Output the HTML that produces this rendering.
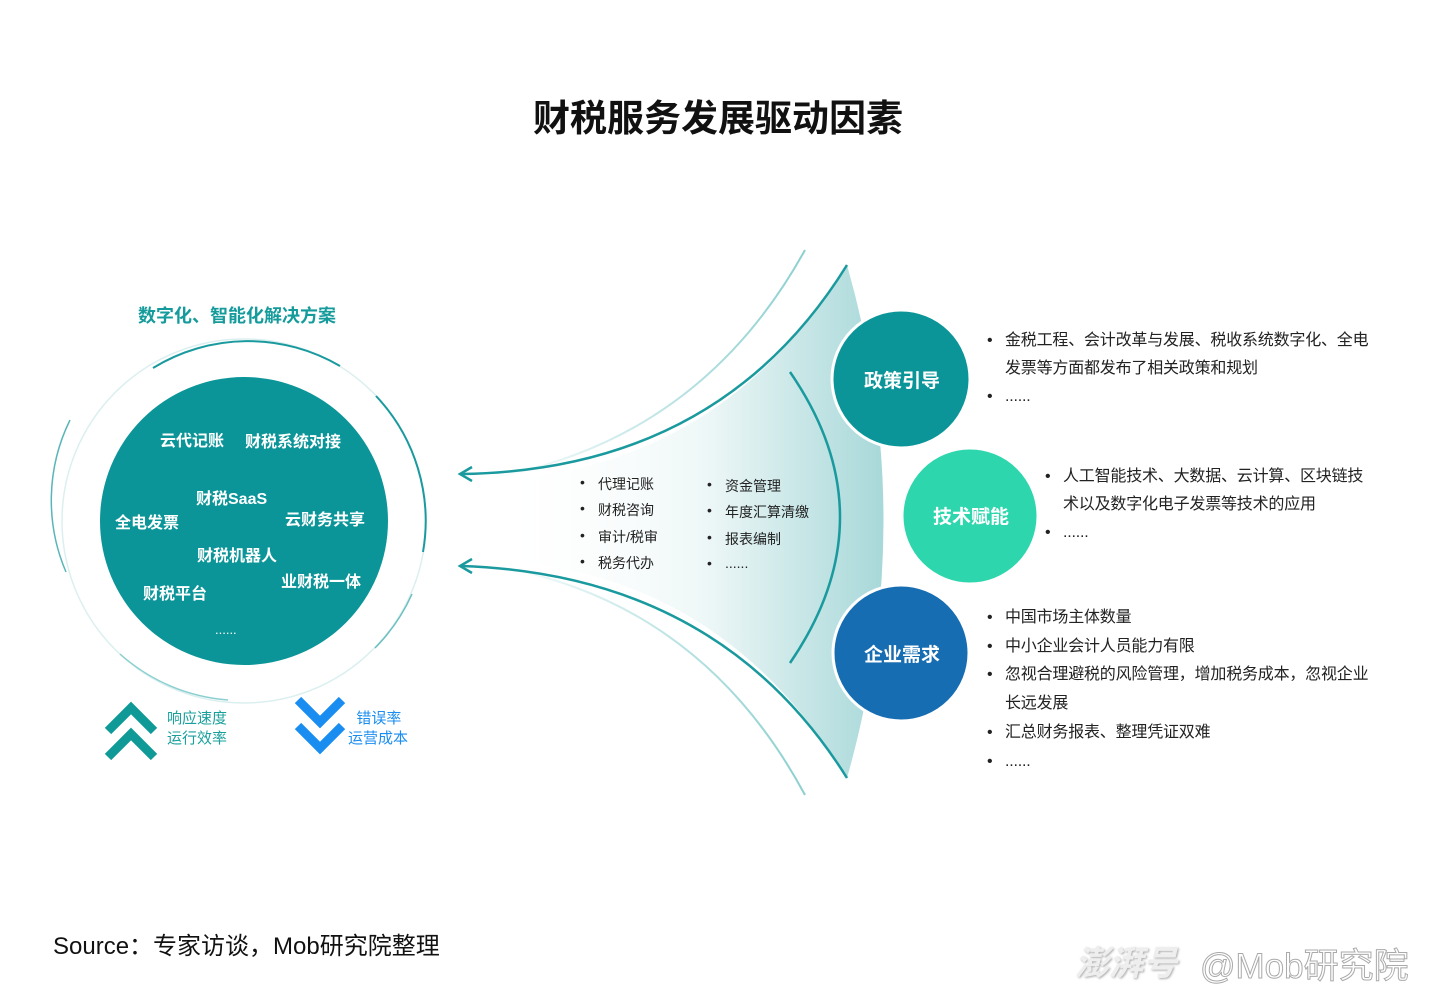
<!DOCTYPE html>
<html><head><meta charset="utf-8"><style>
*{margin:0;padding:0}
body{width:1436px;height:983px;background:#fff;position:relative;overflow:hidden;font-family:"Liberation Sans","Noto Sans CJK SC",sans-serif;color:#222}
.t{position:absolute;white-space:nowrap}
.w{color:#fff;font-weight:bold;font-size:16px}
.li{position:absolute;font-size:14px;white-space:nowrap}
.li:before{content:"•";position:absolute;left:-18px}
.r{position:absolute;font-size:16px;line-height:28px;white-space:nowrap;letter-spacing:-0.2px}
.r div{position:relative}
.r div:before{content:"•";position:absolute;left:-18px}
</style></head><body>
<svg width="1436" height="983" style="position:absolute;left:0;top:0">
<defs>
<linearGradient id="fan" x1="0" y1="0" x2="1" y2="0">
<stop offset="0" stop-color="#ffffff" stop-opacity="0"/>
<stop offset="0.55" stop-color="#eef7f7"/>
<stop offset="1" stop-color="#a8d8d9"/>
</linearGradient>
<linearGradient id="lt" x1="0" y1="0" x2="1" y2="0">
<stop offset="0" stop-color="#fff"/><stop offset="1" stop-color="#8ccfd0"/>
</linearGradient>
</defs>
<path d="M847,265 Q720,470 490,480 L490,560 Q720,570 847,778 Q920,520 847,265Z" fill="url(#fan)"/>
<path d="M805,250 Q700,440 490,478" stroke="url(#lt)" stroke-width="2" fill="none"/>
<path d="M805,795 Q700,600 490,565" stroke="url(#lt)" stroke-width="2" fill="none"/>
<path d="M847,265 Q720,470 462,474" stroke="#1a9a9e" stroke-width="2.5" fill="none"/>
<path d="M847,778 Q720,575 462,566" stroke="#1a9a9e" stroke-width="2.5" fill="none"/>
<path d="M472,467 L460,474 L472,481" stroke="#1a9a9e" stroke-width="2.5" fill="none"/>
<path d="M472,559 L460,566 L472,573" stroke="#1a9a9e" stroke-width="2.5" fill="none"/>
<path d="M790,372 Q890,517 790,663" stroke="#1a9a9e" stroke-width="2.5" fill="none"/>
<circle cx="901" cy="379" r="69" fill="#0c9599" stroke="#fff" stroke-width="3"/>
<circle cx="970" cy="516" r="68" fill="#2dd6ad" stroke="#fff" stroke-width="3"/>
<circle cx="901" cy="653" r="68" fill="#176db2" stroke="#fff" stroke-width="3"/>
<circle cx="244" cy="521" r="182" fill="none" stroke="#dcefef" stroke-width="1.5"/>
<path d="M153,368 A182,182 0 0 1 340,366" stroke="#1a9a9e" stroke-width="2" fill="none"/>
<path d="M376,396 A182,182 0 0 1 423,552" stroke="#1a9a9e" stroke-width="2" fill="none"/>
<path d="M412,594 A182,182 0 0 1 375,648" stroke="#6bbec0" stroke-width="1.5" fill="none"/>
<path d="M66,572 A182,182 0 0 1 70,420" stroke="#5ab5b8" stroke-width="1.5" fill="none"/>
<path d="M120,654 A182,182 0 0 0 228,700" stroke="#8ccfd0" stroke-width="1.5" fill="none"/>
<circle cx="244" cy="521" r="144" fill="#0c9598"/>
<path d="M108,731 L131,708 L154,731 M108,757 L131,734 L154,757" stroke="#109a97" stroke-width="9" fill="none"/>
<path d="M298,700 L320,722 L342,700 M298,726 L320,748 L342,726" stroke="#1a8df0" stroke-width="9" fill="none"/>
</svg>
<div class="t" style="left:0;width:1436px;text-align:center;top:88px;font-size:37px;font-weight:bold;color:#111">财税服务发展驱动因素</div>
<div class="t" style="left:138px;top:302px;font-size:18px;font-weight:bold;color:#169b9c">数字化、智能化解决方案</div>
<div class="t w" style="left:160px;top:427px">云代记账</div>
<div class="t w" style="left:245px;top:428px">财税系统对接</div>
<div class="t w" style="left:196px;top:485px">财税SaaS</div>
<div class="t w" style="left:115px;top:509px">全电发票</div>
<div class="t w" style="left:285px;top:506px">云财务共享</div>
<div class="t w" style="left:197px;top:542px">财税机器人</div>
<div class="t w" style="left:281px;top:568px">业财税一体</div>
<div class="t w" style="left:143px;top:580px">财税平台</div>
<div class="t w" style="left:215px;top:622px;font-size:13px;font-weight:normal">......</div>
<div class="t" style="left:167px;top:709px;font-size:15px;color:#19a09c;line-height:20px">响应速度<br>运行效率</div>
<div class="t" style="left:348px;top:709px;font-size:15px;color:#1a8df0;line-height:20px">&nbsp;&nbsp;错误率<br>运营成本</div>
<div class="li" style="left:598px;top:474px">代理记账</div>
<div class="li" style="left:598px;top:500px">财税咨询</div>
<div class="li" style="left:598px;top:527px">审计/税审</div>
<div class="li" style="left:598px;top:553px">税务代办</div>
<div class="li" style="left:725px;top:476px">资金管理</div>
<div class="li" style="left:725px;top:502px">年度汇算清缴</div>
<div class="li" style="left:725px;top:529px">报表编制</div>
<div class="li" style="left:725px;top:555px">......</div>
<div class="t w" style="left:864px;top:366px;font-size:19px">政策引导</div>
<div class="t w" style="left:933px;top:502px;font-size:19px">技术赋能</div>
<div class="t w" style="left:864px;top:640px;font-size:19px">企业需求</div>
<div class="r" style="left:1005px;top:327px"><div>金税工程、会计改革与发展、税收系统数字化、全电<br>发票等方面都发布了相关政策和规划</div><div>......</div></div>
<div class="r" style="left:1063px;top:463px"><div>人工智能技术、大数据、云计算、区块链技<br>术以及数字化电子发票等技术的应用</div><div>......</div></div>
<div class="r" style="left:1005px;top:604px;line-height:28.7px"><div>中国市场主体数量</div><div>中小企业会计人员能力有限</div><div>忽视合理避税的风险管理，增加税务成本，忽视企业<br>长远发展</div><div>汇总财务报表、整理凭证双难</div><div>......</div></div>
<div class="t" style="left:53px;top:926px;font-size:24px;color:#111">Source：专家访谈，Mob研究院整理</div>
<div class="t" style="left:1075px;top:936px;font-size:34px;color:#eee;font-weight:bold;font-style:italic;text-shadow:1px 1px 2px #aaa">澎湃号</div>
<div class="t" style="left:1200px;top:938px;font-size:35px;color:#fff;-webkit-text-stroke:1px #aaa">@Mob研究院</div>
</body></html>
